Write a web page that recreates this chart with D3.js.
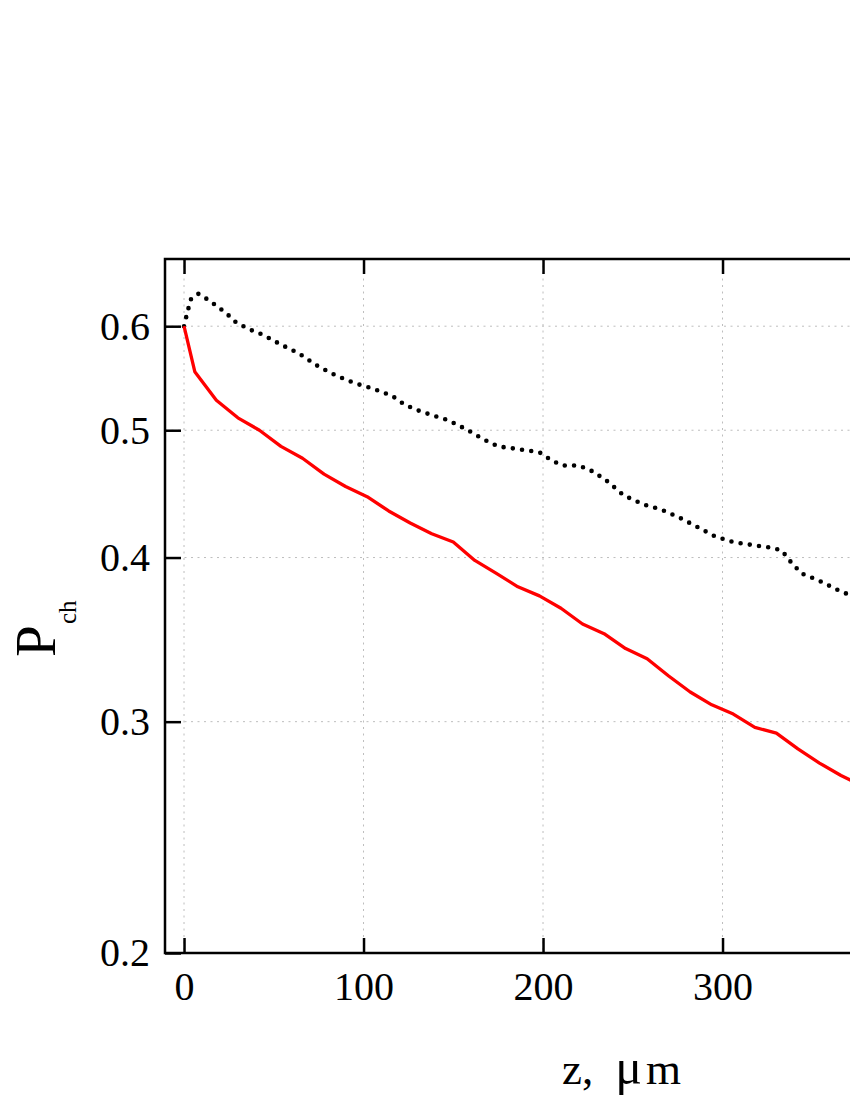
<!DOCTYPE html>
<html>
<head>
<meta charset="utf-8">
<script src="https://cdn.jsdelivr.net/npm/d3@7"></script>
<style>
  body { margin: 0; background: #fff; }
  svg { display: block; overflow: hidden; }
  text { font-family: "Liberation Serif", "Times New Roman", serif; fill: #000; }
</style>
</head>
<body>
<div id="viz"></div>
<script>
// data
const solidZ = [0, 6, 18, 30, 42, 54, 66, 78, 90, 102, 114, 126, 138, 150, 162, 174, 186, 198,
  210, 222, 234, 246, 258, 270, 282, 294, 306, 318, 330, 342, 354, 366, 378];
const solidP = [0.600, 0.554, 0.527, 0.511, 0.500, 0.486, 0.476, 0.463, 0.453, 0.445, 0.434, 0.425,
  0.417, 0.411, 0.398, 0.389, 0.380, 0.374, 0.366, 0.356, 0.350, 0.341, 0.335, 0.325, 0.316,
  0.309, 0.304, 0.297, 0.294, 0.286, 0.279, 0.273, 0.268];

const dottedZ = [0, 2, 4, 8, 13, 18, 24, 29, 36, 44, 54, 64, 75, 85, 95, 105, 116, 122, 128, 137,
  147, 157, 167, 175, 185, 198, 205, 211, 220, 228, 236, 245, 256, 266, 276, 286, 296, 306, 316,
  327, 333, 338, 344, 354, 364, 372, 380];
const dottedP = [0.600, 0.616, 0.630, 0.635, 0.629, 0.622, 0.613, 0.604, 0.597, 0.591, 0.581,
  0.572, 0.559, 0.550, 0.543, 0.538, 0.531, 0.524, 0.519, 0.514, 0.509, 0.501, 0.492, 0.486,
  0.484, 0.481, 0.474, 0.470, 0.470, 0.465, 0.457, 0.446, 0.439, 0.435, 0.429, 0.422, 0.415,
  0.411, 0.409, 0.407, 0.405, 0.397, 0.389, 0.384, 0.378, 0.374, 0.370];

const xTicks = [0, 100, 200, 300];
const yTicks = [0.2, 0.3, 0.4, 0.5, 0.6];

const W = 850, H = 1100;
const plotLeft = 165, plotTop = 259, plotBottom = 953;
const pxPer100 = 179.5;
const xMin = -10.6, xMax = 430;
const plotRight = plotLeft + (xMax - xMin) * pxPer100 / 100;

const svg = d3.select("#viz").append("svg")
    .attr("width", W)
    .attr("height", H);

const x = d3.scaleLinear().domain([xMin, xMax]).range([plotLeft, plotRight]);
const y = d3.scaleLog().domain([0.2, 0.675]).range([plotBottom, plotTop]);

// grid
const grid = svg.append("g")
    .attr("stroke", "#bdbdbd")
    .attr("stroke-width", 1)
    .attr("stroke-dasharray", "2,4.5");
grid.selectAll(".vg").data(xTicks).join("line")
    .attr("x1", d => x(d)).attr("x2", d => x(d))
    .attr("y1", plotTop).attr("y2", plotBottom);
grid.selectAll(".hg").data(yTicks).join("line")
    .attr("x1", plotLeft).attr("x2", plotRight)
    .attr("y1", d => y(d)).attr("y2", d => y(d));

// axes, ticks pointing inward
const ax = svg.append("g").attr("class", "axes");

ax.append("g")
    .attr("transform", `translate(${plotLeft},0)`)
    .call(d3.axisLeft(y).tickValues(yTicks).tickFormat(d3.format(".1f"))
      .tickSize(-16).tickSizeOuter(0).tickPadding(15));

ax.append("g")
    .attr("transform", `translate(0,${plotBottom})`)
    .call(d3.axisBottom(x).tickValues(xTicks).tickFormat(d3.format("d"))
      .tickSize(-15).tickSizeOuter(0).tickPadding(19));

ax.append("g")
    .attr("transform", `translate(0,${plotTop})`)
    .call(d3.axisTop(x).tickValues(xTicks).tickFormat("")
      .tickSize(-15).tickSizeOuter(0));

ax.selectAll(".domain").remove();
ax.selectAll(".tick line").attr("stroke", "#000").attr("stroke-width", 2.5);
ax.selectAll(".tick text")
    .style("font-family", '"Liberation Serif", "Times New Roman", serif')
    .style("font-size", "40px")
    .attr("fill", "#000");

// frame
svg.append("rect")
    .attr("x", plotLeft).attr("y", plotTop)
    .attr("width", plotRight - plotLeft).attr("height", plotBottom - plotTop)
    .attr("fill", "none")
    .attr("stroke", "#000")
    .attr("stroke-width", 2.5);

// lines
const line = d3.line().x(d => x(d[0])).y(d => y(d[1]));

svg.append("path")
    .datum(d3.zip(dottedZ, dottedP))
    .attr("d", line)
    .attr("fill", "none")
    .attr("stroke", "#000")
    .attr("stroke-width", 4.6)
    .attr("stroke-linecap", "round")
    .attr("stroke-dasharray", "0,9.3");

svg.append("path")
    .datum(d3.zip(solidZ, solidP))
    .attr("d", line)
    .attr("fill", "none")
    .attr("stroke", "#ff0000")
    .attr("stroke-width", 3.3)
    .attr("stroke-linejoin", "round");

// axis titles
const xl = svg.append("text")
    .attr("x", 562).attr("y", 1084)
    .style("font-size", "45px");
xl.append("tspan").text("z,");
xl.append("tspan").attr("dx", 22).style("font-size", "50px").text("μ");
xl.append("tspan").attr("dx", 4).text("m");

const yl = svg.append("g").attr("transform", "translate(55,657) rotate(-90)");
yl.append("text")
    .style("font-size", "57px")
    .text("P");
yl.append("text")
    .attr("transform", "translate(33,21)")
    .style("font-size", "25px")
    .text("ch");
</script>
</body>
</html>
